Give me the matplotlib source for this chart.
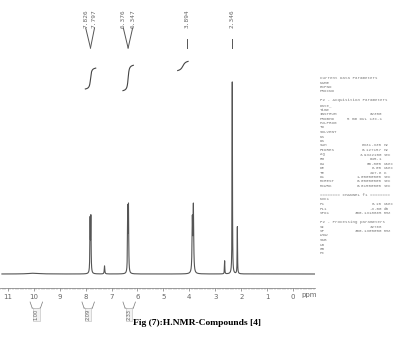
import numpy as np
import matplotlib
matplotlib.use("Agg")
import matplotlib.pyplot as plt

# peak list (ppm, height with tallest = 100, half width)
peak_ppm = [10.0, 7.826, 7.797, 7.27, 6.376, 6.347, 3.885, 3.845, 2.64, 2.346, 2.15]
peak_height = [0.4, 27.0, 28.0, 4.2, 32.5, 33.5, 27.0, 34.0, 6.8, 100.0, 24.5]
peak_width = [0.25, 0.010, 0.010, 0.012, 0.010, 0.010, 0.014, 0.014, 0.008, 0.008, 0.008]

# peak pick labels
label_text = ["7.826", "7.797", "6.376", "6.347", "3.894", "2.346"]
label_ppm = [7.826, 7.797, 6.376, 6.347, 3.894, 2.346]

# integral curves (centre ppm, half width, start level, end level)
integral_center = [7.81, 6.36, 4.25]
integral_width = [0.03, 0.03, 0.08]
integral_low = [95.8, 94.8, 105.2]
integral_high = [107.8, 109.4, 111.5]

# integral values under the axis
int_values = ["1.00", "2.09", "2.33"]
int_ppm = [9.9, 7.9, 6.32]

params_left = [
    "Current Data Parameters", "NAME", "EXPNO", "PROCNO", "",
    "F2 - Acquisition Parameters", "Date_", "Time", "INSTRUM", "PROBHD",
    "PULPROG", "TD", "SOLVENT", "NS", "DS", "SWH", "FIDRES", "AQ", "RG",
    "DW", "DE", "TE", "D1", "MCREST", "MCWRK", "",
    "======== CHANNEL f1 ========", "NUC1", "P1", "PL1", "SFO1", "",
    "F2 - Processing parameters", "SI", "SF", "WDW", "SSB", "LB", "GB", "PC",
]
params_value = [
    "", "", "", "", "",
    "", "", "", "av300", "5 mm DUL 13C-1",
    "", "", "", "", "", "6331.330", "0.127157", "3.9322100", "645.1",
    "80.800", "6.00", "297.6", "1.00000000", "0.00000000", "0.01500000", "",
    "", "", "8.10", "-3.00", "300.1318865", "",
    "", "32768", "300.1300000", "", "", "", "", "",
]
params_unit = [
    "", "", "", "", "",
    "", "", "", "", "",
    "", "", "", "", "", "Hz", "Hz", "sec", "",
    "usec", "usec", "K", "sec", "sec", "sec", "",
    "", "", "usec", "dB", "MHz", "",
    "", "", "MHz", "", "", "", "", "",
]

W, H = 397, 337
fig = plt.figure(figsize=(W / 100, H / 100), dpi=100)

# spectrum axes: ppm 11 -> px 6, ppm 0 -> px 293 ; baseline at px 274, axis at px 288
px_per_ppm = 26.1
x_left_ppm = 293 / px_per_ppm
x_right_ppm = -(315 - 293) / px_per_ppm
unit_px = 1.92
ax = fig.add_axes([0, 49 / H, 315 / W, 288 / H])
ax.set_xlim(x_left_ppm, x_right_ppm)
ax.set_ylim(-14 / unit_px, 274 / unit_px)

x = np.linspace(x_right_ppm, x_left_ppm, 40000)
y = np.zeros_like(x)
for p, h, w in zip(peak_ppm, peak_height, peak_width):
    y += h * w**2 / ((x - p) ** 2 + w**2)
ax.plot(x, y, color="#555555", lw=0.8)

# integrals
for c, w, lo, hi in zip(integral_center, integral_width, integral_low, integral_high):
    xi = np.linspace(c + 0.2, c - 0.2, 300)
    yi = lo + (hi - lo) * (0.5 + np.arctan((c - xi) / w) / np.pi)
    ax.plot(xi, yi, color="#444444", lw=0.8)


def u(px):
    # figure pixel row -> intensity units
    return (274 - px) / unit_px


# peak labels
label_offset = {0: 0.17, 1: -0.14, 2: 0.17, 3: -0.16, 4: 0.2, 5: 0.0}
for i, (t, p) in enumerate(zip(label_text, label_ppm)):
    xt = p + label_offset[i]
    ax.text(xt, u(28), t, rotation=90, ha="center", va="bottom",
            fontsize=4.4, color="#666666", family="DejaVu Sans Mono")
    if t in ("3.894", "2.346"):
        ax.plot([xt, xt], [u(39), u(48)], color="#555555", lw=0.7)
    else:
        mid = (label_ppm[i - 1] + p) / 2 if i % 2 else (p + label_ppm[i + 1]) / 2
        ax.plot([xt, mid], [u(28), u(48)], color="#555555", lw=0.7)

# axis styling
for s in ["top", "left", "right"]:
    ax.spines[s].set_visible(False)
ax.spines["bottom"].set_color("#777777")
ax.spines["bottom"].set_linewidth(0.5)
ax.set_yticks([])
ax.set_xticks(range(0, 12))
ax.set_xticks(np.arange(-0.8, 11.3, 0.1), minor=True)
ax.tick_params(axis="x", which="major", length=2.5, width=0.5, color="#777777",
               labelsize=5, labelcolor="#666666", pad=2)
ax.tick_params(axis="x", which="minor", length=1.2, width=0.3, color="#999999")
ax.text(-0.6, u(292), "ppm", ha="center", va="top", fontsize=5,
        color="#666666", clip_on=False)

# integral value brackets under the axis
for v, p in zip(int_values, int_ppm):
    a, b = p + 0.24, p - 0.24
    ax.plot([a, a - 0.08], [u(302), u(308)], color="#777777", lw=0.5, clip_on=False)
    ax.plot([b, b + 0.08], [u(302), u(308)], color="#777777", lw=0.5, clip_on=False)
    ax.plot([a - 0.08, p], [u(308), u(309)], color="#777777", lw=0.5, clip_on=False)
    ax.plot([b + 0.08, p], [u(308), u(309)], color="#777777", lw=0.5, clip_on=False)
    ax.text(p, u(309), v, rotation=90, ha="center", va="top", fontsize=3.6,
            color="#666666", clip_on=False,
            bbox=dict(boxstyle="square,pad=0.15", fc="#f2f2f2", ec="#bbbbbb", lw=0.4))

# acquisition parameter block
y0 = 78
for i, (nm, val, un) in enumerate(zip(params_left, params_value, params_unit)):
    yy = 1 - (y0 + i * 4.5) / H
    fig.text(320 / W, yy, nm, fontsize=3, family="Liberation Mono",
             color="#777777", va="center")
    if val:
        fig.text(382 / W, yy, val, fontsize=3, family="Liberation Mono",
                 color="#777777", va="center", ha="right")
    if un:
        fig.text(384 / W, yy, un, fontsize=3, family="Liberation Mono",
                 color="#777777", va="center")

fig.text(197 / W, 1 - 323 / H, "Fig (7):H.NMR-Compounds [4]", ha="center",
         va="center", fontsize=6.8, fontweight="bold", family="Liberation Serif")

fig.savefig("out.png", dpi=100)
